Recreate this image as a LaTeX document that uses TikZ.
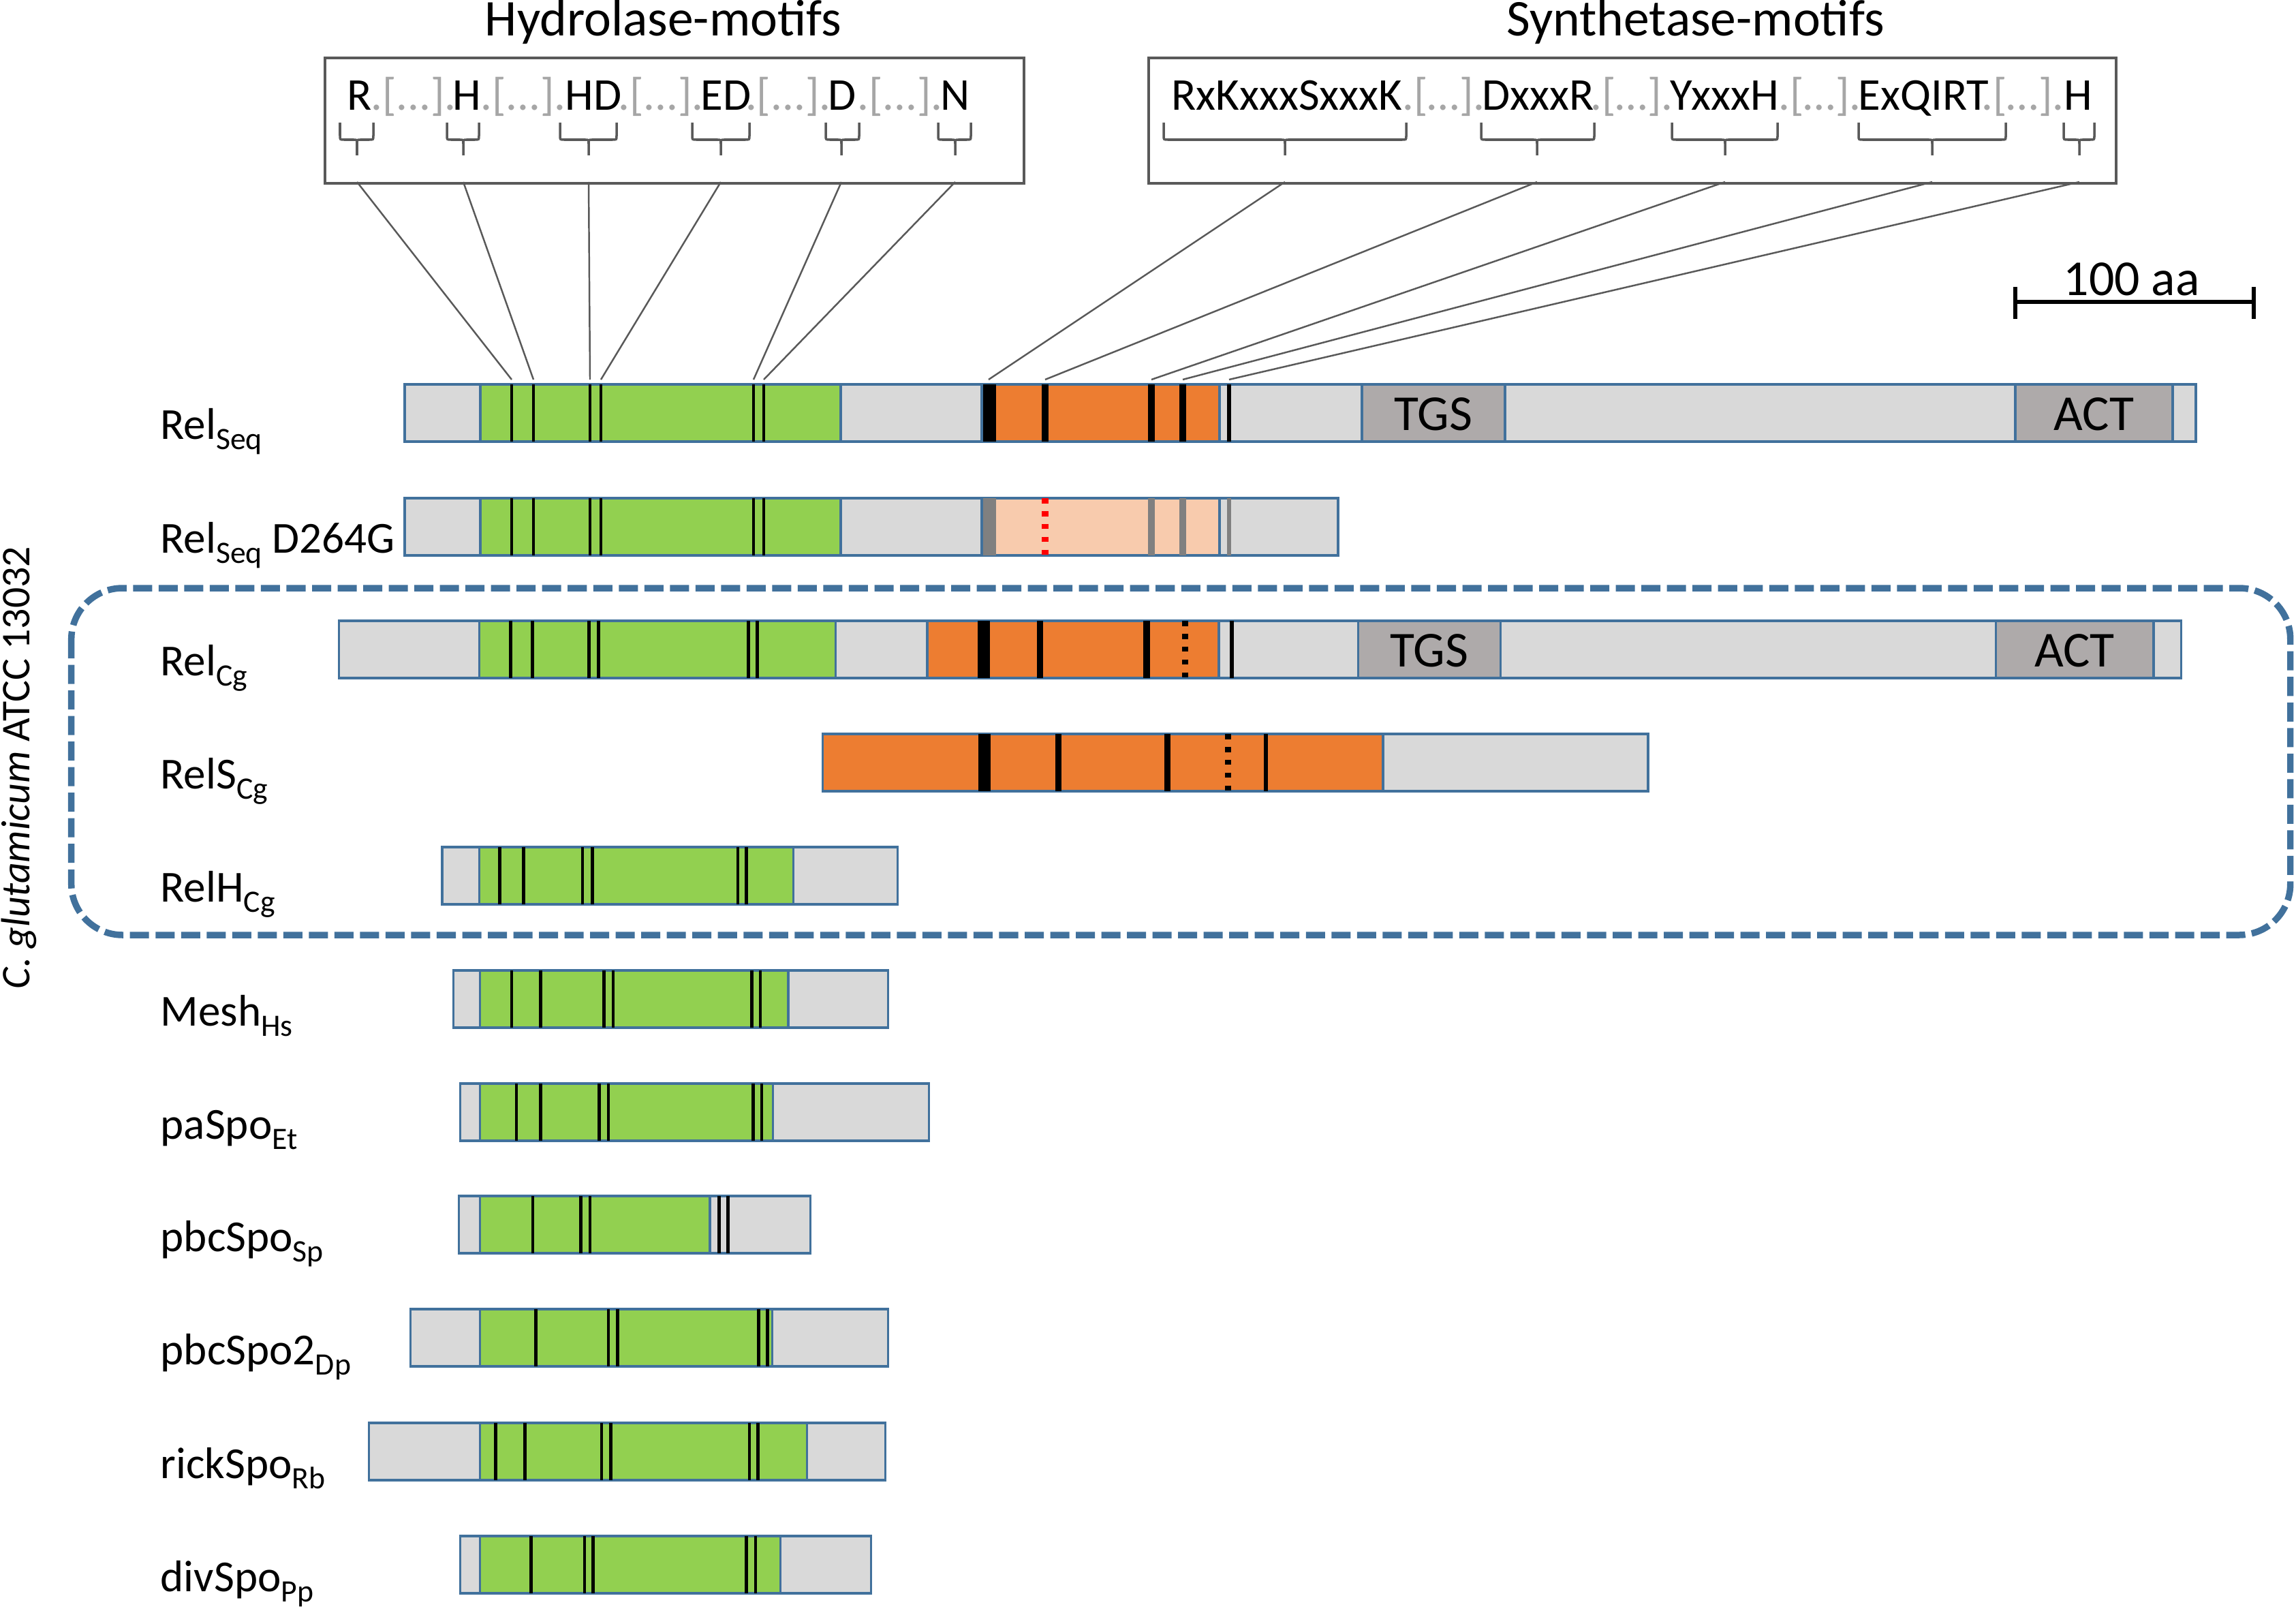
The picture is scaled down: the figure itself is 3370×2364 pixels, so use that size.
\documentclass[tikz,border=0pt]{standalone}
\usepackage{fontspec}
\setmainfont{Carlito}
\definecolor{lgray}{HTML}{D9D9D9}
\definecolor{hgreen}{HTML}{92D050}
\definecolor{sorange}{HTML}{ED7D31}
\definecolor{lorange}{HTML}{F8CBAD}
\definecolor{dgray}{HTML}{AEAAAA}
\definecolor{barblue}{HTML}{41719C}
\definecolor{boxgray}{HTML}{595959}
\definecolor{fillgray}{HTML}{A6A6A6}
\definecolor{bandgray}{HTML}{808080}
\newcommand{\lblfont}{\fontsize{18.5}{22}\selectfont}
\newcommand{\motfont}{\fontsize{19}{22}\selectfont}
\newcommand{\titfont}{\fontsize{21.5}{25}\selectfont}
\newcommand{\domfont}{\fontsize{21}{24}\selectfont}
\newcommand{\lsub}[1]{\raisebox{-0.15cm}{\fontsize{13}{13}\selectfont #1}}
\newcommand{\bseg}[4]{\draw[segline,fill=#4] (#1,#3) rectangle (#2,#3+84);}
\newcommand{\bmot}[3]{\draw[#1] (#2,#3) -- (#2,#3+84);}
\newcommand{\bband}[4]{\fill[#4] (#1,#3) rectangle (#2,#3+84);}
\newcommand{\brk}[3]{%
  \draw[brkline] (#1,180) -- (#1,199) .. controls (#1,205) .. (#1+6,205) -- (#2-5,205) .. controls (#2,205) .. (#2,211) -- (#2,228);
  \draw[brkline] (#3,180) -- (#3,199) .. controls (#3,205) .. (#3-6,205) -- (#2+5,205) .. controls (#2,205) .. (#2,211);}
\tikzset{
  segline/.style={draw=barblue, line width=0.9pt},
  hline/.style={draw=black, line width=1.35pt},
  sline/.style={draw=black, line width=2.6pt},
  gline/.style={draw=bandgray, line width=2.6pt},
  tline/.style={draw=black, line width=1.7pt},
  tgline/.style={draw=bandgray, line width=1.7pt},
  dotline/.style={draw=black, line width=2.6pt, dash pattern=on 0.076cm off 0.113cm},
  reddot/.style={draw=red, line width=2.6pt, dash pattern=on 0.076cm off 0.113cm},
  conn/.style={draw=boxgray, line width=0.7pt},
  brkline/.style={draw=boxgray, line width=1pt},
  lbl/.style={anchor=base west, inner sep=0pt, font=\lblfont},
  dom/.style={anchor=base, inner sep=0pt, font=\domfont},
  mtxt/.style={anchor=base, inner sep=0pt, font=\motfont},
  ftxt/.style={anchor=base, inner sep=0pt, font=\motfont, text=fillgray},
  mbox/.style={draw=boxgray, line width=1.2pt, anchor=north west, inner sep=0pt, minimum height=1.84cm},
}
\begin{document}
\begin{tikzpicture}[x=0.01cm,y=-0.01cm]
\useasboundingbox (0,0) rectangle (3370,2364);
\fill[white] (0,0) rectangle (3370,2364);

% ---------- titles and motif boxes ----------
\node[anchor=base, inner sep=0pt, font=\titfont] (thyd) at (973.5,53) {Hydrolase-motifs};
\node[anchor=base, inner sep=0pt, font=\titfont] (tsyn) at (2488.5,53) {Synthetase-motifs};
\node[mbox, minimum width=10.25cm] (hbox) at (475,83) {};
\node[mbox, minimum width=14.19cm] (sbox) at (1684,83) {};

% hydrolase motif text
\node[mtxt] (mR) at (527.6,162) {R};
\node[ftxt] (f1) at (607,162) {.[...].};
\node[mtxt] (mH) at (685.8,162) {H};
\node[ftxt] (f2) at (768,162) {.[...].};
\node[mtxt] (mHD) at (870.8,162) {HD};
\node[ftxt] (f3) at (970,162) {.[...].};
\node[mtxt] (mED) at (1065.5,162) {ED};
\node[ftxt] (f4) at (1156.8,162) {.[...].};
\node[mtxt] (mD) at (1236.5,162) {D};
\node[ftxt] (f5) at (1321,162) {.[...].};
\node[mtxt] (mN) at (1402.2,162) {N};
% synthetase motif text
\node[mtxt] (m1) at (1888.8,162) {RxKxxxSxxxK};
\node[ftxt] (g1) at (2119,162) {.[…].};
\node[mtxt] (m2) at (2257.4,162) {DxxxR};
\node[ftxt] (g2) at (2395,162) {.[…].};
\node[mtxt] (m3) at (2531.3,162) {YxxxH};
\node[ftxt] (g3) at (2671,162) {.[…].};
\node[mtxt] (m4) at (2823.5,162) {ExQIRT};
\node[ftxt] (g4) at (2969,162) {.[…].};
\node[mtxt] (m5) at (3050,162) {H};

% brackets
\brk{499}{524}{548}
\brk{656}{680}{703}
\brk{822}{864}{905}
\brk{1016}{1058}{1100}
\brk{1212}{1235}{1261}
\brk{1377}{1402}{1425}
\brk{1708}{1886}{2064}
\brk{2174}{2256}{2340}
\brk{2454}{2532}{2609}
\brk{2728}{2836}{2944}
\brk{3029}{3052}{3074}

% connector coordinates
\coordinate (hs1) at (524,267);  \coordinate (he1) at (751,557);
\coordinate (hs2) at (680,267);  \coordinate (he2) at (783,557);
\coordinate (hs3) at (864,267);  \coordinate (he3) at (866,557);
\coordinate (hs4) at (1058,267); \coordinate (he4) at (882,557);
\coordinate (hs5) at (1235,267); \coordinate (he5) at (1106,557);
\coordinate (hs6) at (1402,267); \coordinate (he6) at (1121,557);
\coordinate (ss1) at (1886,267); \coordinate (se1) at (1451,557);
\coordinate (ss2) at (2256,267); \coordinate (se2) at (1534,557);
\coordinate (ss3) at (2532,267); \coordinate (se3) at (1690,557);
\coordinate (ss4) at (2836,267); \coordinate (se4) at (1736,557);
\coordinate (ss5) at (3052,267); \coordinate (se5) at (1804,557);
\foreach \i in {1,...,6} {\draw[conn] (hs\i) -- (he\i);}
\foreach \i in {1,...,5} {\draw[conn] (ss\i) -- (se\i);}

% scale bar
\coordinate (sbl) at (2958,443);
\coordinate (sbr) at (3308,443);
\draw[line width=1.9pt] (sbl) -- (sbr);
\draw[line width=1.9pt] ([yshift=0.22cm]sbl) -- ([yshift=-0.25cm]sbl);
\draw[line width=1.9pt] ([yshift=0.22cm]sbr) -- ([yshift=-0.25cm]sbr);
\node[dom] (sbt) at (3128.6,434) {100 aa};

% ---------- dashed box ----------
\draw[barblue, line width=2.7pt, dash pattern=on 0.28cm off 0.095cm, rounded corners=0.75cm] (104.7,863) rectangle (3361.7,1372);
\node[rotate=90, anchor=base, inner sep=0pt, font=\fontsize{17}{20}\selectfont] (cglu) at (44,1126.5) {\textit{C. glutamicum} ATCC 13032};

% ---------- row 1: RelSeq ----------
\bseg{594}{705}{564}{lgray}
\bseg{705}{1234}{564}{hgreen}
\bseg{1234}{1441}{564}{lgray}
\bseg{1441}{1790}{564}{sorange}
\bseg{1790}{1999}{564}{lgray}
\bseg{1999}{2209}{564}{dgray}
\bseg{2209}{2958}{564}{lgray}
\bseg{2958}{3189}{564}{dgray}
\bseg{3189}{3223}{564}{lgray}
\foreach \x in {751,783,866,882,1106,1121} {\bmot{hline}{\x}{564}}
\bband{1442.5}{1461.5}{564}{black}
\foreach \x in {1534,1690,1736} {\bmot{sline}{\x}{564}}
\bmot{tline}{1804}{564}
\node[dom] (tgs1) at (2104,631.7) {TGS};
\node[dom] (act1) at (3073.5,631.7) {ACT};
\node[lbl] (l1) at (235,644) {Rel\lsub{Seq}};

% ---------- row 2: RelSeq D264G ----------
\bseg{594}{705}{731}{lgray}
\bseg{705}{1234}{731}{hgreen}
\bseg{1234}{1441}{731}{lgray}
\bseg{1441}{1790}{731}{lorange}
\bseg{1790}{1964}{731}{lgray}
\foreach \x in {751,783,866,882,1106,1121} {\bmot{hline}{\x}{731}}
\bband{1442.5}{1461.5}{731}{bandgray}
\bmot{reddot}{1534}{731}
\foreach \x in {1690,1736} {\bmot{gline}{\x}{731}}
\bmot{tgline}{1804}{731}
\node[lbl] (l2) at (235,811) {Rel\lsub{Seq} D264G};

% ---------- row 3: RelCg ----------
\bseg{497.5}{703.4}{911}{lgray}
\bseg{703.4}{1226.4}{911}{hgreen}
\bseg{1226.4}{1361}{911}{lgray}
\bseg{1361}{1789}{911}{sorange}
\bseg{1789}{1993.4}{911}{lgray}
\bseg{1993.4}{2202.5}{911}{dgray}
\bseg{2202.5}{2929.3}{911}{lgray}
\bseg{2929.3}{3161}{911}{dgray}
\bseg{3161}{3201.7}{911}{lgray}
\foreach \x in {749.6,781.4,864.3,878.7,1098.8,1111.7} {\bmot{hline}{\x}{911}}
\bband{1434.7}{1453}{911}{black}
\foreach \x in {1526.4,1683} {\bmot{sline}{\x}{911}}
\bmot{dotline}{1739.5}{911}
\bmot{tline}{1807.7}{911}
\node[dom] (tgs3) at (2098,978.7) {TGS};
\node[dom] (act3) at (3045,978.7) {ACT};
\node[lbl] (l3) at (235,991) {Rel\lsub{Cg}};

% ---------- row 4: RelSCg ----------
\bseg{1207.3}{2030}{1077}{sorange}
\bseg{2030}{2419}{1077}{lgray}
\bband{1435.5}{1453.6}{1077}{black}
\foreach \x in {1553.9,1713.9} {\bmot{sline}{\x}{1077}}
\bmot{dotline}{1802.3}{1077}
\bmot{tline}{1858}{1077}
\node[lbl] (l4) at (235,1157) {RelS\lsub{Cg}};

% ---------- row 5: RelHCg ----------
\bseg{649}{703.4}{1243}{lgray}
\bseg{703.4}{1164.3}{1243}{hgreen}
\bseg{1164.3}{1317.4}{1243}{lgray}
\foreach \x in {733.7,768.7,854.9,869.2,1082.9,1095.7} {\bmot{hline}{\x}{1243}}
\node[lbl] (l5) at (235,1323) {RelH\lsub{Cg}};

% ---------- row 6: MeshHs ----------
\bseg{665.2}{704.5}{1424}{lgray}
\bseg{704.5}{1157}{1424}{hgreen}
\bseg{1157}{1303.6}{1424}{lgray}
\foreach \x in {750.9,793.8,886.6,900,1103.6,1116} {\bmot{hline}{\x}{1424}}
\node[lbl] (l6) at (235,1505) {Mesh\lsub{Hs}};

% ---------- row 7: paSpoEt ----------
\bseg{675.9}{704.5}{1590}{lgray}
\bseg{704.5}{1134.8}{1590}{hgreen}
\bseg{1134.8}{1363.4}{1590}{lgray}
\foreach \x in {758,793.8,879.5,892.9,1105.4,1117.9} {\bmot{hline}{\x}{1590}}
\node[lbl] (l7) at (235,1671) {paSpo\lsub{Et}};

% ---------- row 8: pbcSpoSp ----------
\bseg{673.2}{704.5}{1755}{lgray}
\bseg{704.5}{1042}{1755}{hgreen}
\bseg{1042}{1189.3}{1755}{lgray}
\foreach \x in {782.1,852.7,866.1,1055.4,1068.8} {\bmot{hline}{\x}{1755}}
\node[lbl] (l8) at (235,1836) {pbcSpo\lsub{Sp}};

% ---------- row 9: pbcSpo2Dp ----------
\bseg{602.7}{704.5}{1921}{lgray}
\bseg{704.5}{1133.9}{1921}{hgreen}
\bseg{1133.9}{1303.6}{1921}{lgray}
\foreach \x in {786.6,892.9,906.3,1113.4,1126.8} {\bmot{hline}{\x}{1921}}
\node[lbl] (l9) at (235,2002) {pbcSpo2\lsub{Dp}};

% ---------- row 10: rickSpoRb ----------
\bseg{541.1}{704.5}{2088}{lgray}
\bseg{704.5}{1184.8}{2088}{hgreen}
\bseg{1184.8}{1299.1}{2088}{lgray}
\foreach \x in {727.7,770.5,883,896.4,1100,1112.5} {\bmot{hline}{\x}{2088}}
\node[lbl] (l10) at (235,2169) {rickSpo\lsub{Rb}};

% ---------- row 11: divSpoPp ----------
\bseg{675.9}{704.5}{2254}{lgray}
\bseg{704.5}{1145.5}{2254}{hgreen}
\bseg{1145.5}{1278.6}{2254}{lgray}
\foreach \x in {779.5,858,870.5,1095.5,1108.9} {\bmot{hline}{\x}{2254}}
\node[lbl] (l11) at (235,2335) {divSpo\lsub{Pp}};
\end{tikzpicture}
\end{document}
